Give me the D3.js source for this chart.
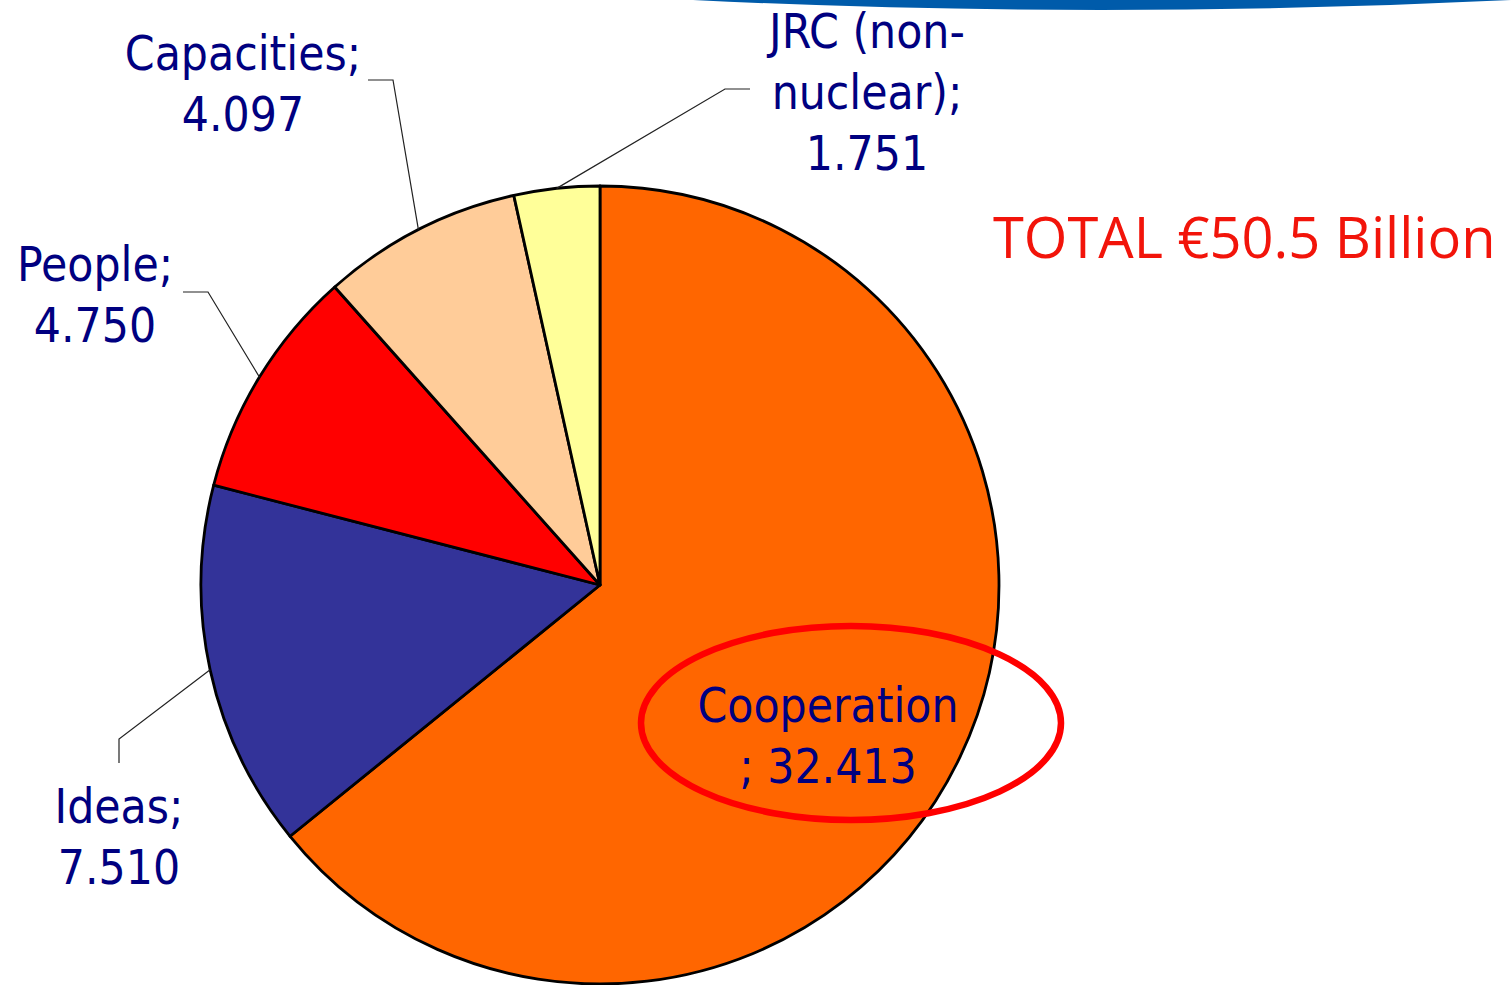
<!DOCTYPE html>
<html>
<head>
<meta charset="utf-8">
<script src="https://cdn.jsdelivr.net/npm/d3@7"></script>
<style>
  html, body { margin: 0; padding: 0; background: #fff; }
  svg { display: block; }
  .lbl { font-family: 'DejaVu Sans Condensed', 'DejaVu Sans', sans-serif; font-stretch: condensed; font-size: 47.5px; fill: #000080; }
  .total { font-family: 'Open Sans', 'Noto Sans', sans-serif; font-size: 56px; fill: #f2140a; }
</style>
</head>
<body>
<script>
// ---- data ----
const categories = ["Cooperation", "Ideas", "People", "Capacities", "JRC (non-nuclear)"];
const values = [32.413, 7.510, 4.750, 4.097, 1.751];
const labelLines = [
  ["Cooperation", "; 32.413"],
  ["Ideas;", "7.510"],
  ["People;", "4.750"],
  ["Capacities;", "4.097"],
  ["JRC (non-", "nuclear);", "1.751"]
];
const sliceColors = ["#ff6600", "#333399", "#ff0000", "#ffcc99", "#ffff99"];
const totalText = "TOTAL €50.5 Billion";

// ---- layout ----
const W = 1511, H = 985;
const cx = 600, cy = 585, R = 399;

const svg = d3.select("body").append("svg").attr("width", W).attr("height", H);

// top blue band
svg.append("path")
  .attr("d", "M693,0 Q1100,20 1511,0 Z")
  .attr("fill", "#005baa");

const pie = d3.pie().sort(null).value(d => d).startAngle(0).endAngle(2 * Math.PI);
const arcs = pie(values);
const arc = d3.arc().innerRadius(0).outerRadius(R);

const g = svg.append("g").attr("transform", `translate(${cx},${cy})`);
g.selectAll("path.slice").data(arcs).enter().append("path")
  .attr("class", "slice")
  .attr("d", arc)
  .attr("fill", (d, i) => sliceColors[i])
  .attr("stroke", "#000")
  .attr("stroke-width", 2.8)
  .attr("stroke-linejoin", "round");

// label placement (layout only)
const layout = [
  { x: 828, y0: 722, leader: null },
  { x: 119, y0: 823, leader: [[119, 739], [119, 763]] },
  { x: 95, y0: 281, leader: [[208, 292], [183, 292]] },
  { x: 243, y0: 70, leader: [[393, 80], [368, 80]] },
  { x: 867, y0: 48, leader: [[725, 89], [750, 89]] }
];
const lineH = 61;

arcs.forEach((a, i) => {
  const L = layout[i];
  if (L.leader) {
    const mid = (a.startAngle + a.endAngle) / 2;
    const p0 = [cx + R * Math.sin(mid), cy - R * Math.cos(mid)];
    const pts = [p0].concat(L.leader);
    svg.append("path")
      .attr("d", d3.line()(pts))
      .attr("fill", "none")
      .attr("stroke", "#222")
      .attr("stroke-width", 1.2);
  }
  const t = svg.append("text").attr("class", "lbl").attr("text-anchor", "middle");
  labelLines[i].forEach((s, k) => {
    t.append("tspan").attr("x", L.x).attr("y", L.y0 + k * lineH).text(s);
  });
});

// red ellipse highlight
svg.append("ellipse")
  .attr("cx", 851).attr("cy", 723).attr("rx", 210).attr("ry", 97)
  .attr("fill", "none").attr("stroke", "#ff0000").attr("stroke-width", 6.5);

svg.append("text").attr("class", "total")
  .attr("x", 993).attr("y", 258).text(totalText);
</script>
</body>
</html>
